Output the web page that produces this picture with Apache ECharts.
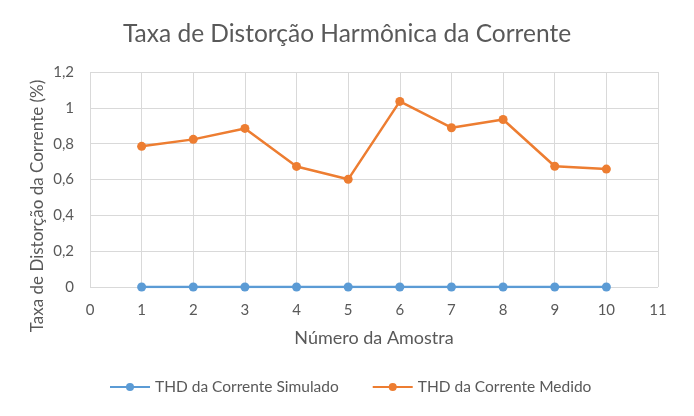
<!DOCTYPE html>
<html>
<head>
<meta charset="utf-8">
<script src="https://cdn.jsdelivr.net/npm/echarts@6/dist/echarts.min.js"></script>
<style>
  html, body { margin: 0; padding: 0; background: #fff; }
  #main { width: 694px; height: 416px; }
</style>
</head>
<body>
<div id="main"></div>
<script>
// amostras e valores
const amostras = [1, 2, 3, 4, 5, 6, 7, 8, 9, 10];
const thdSimulado = [0, 0, 0, 0, 0, 0, 0, 0, 0, 0];
const thdMedido = [0.785, 0.824, 0.885, 0.673, 0.601, 1.036, 0.889, 0.935, 0.674, 0.658];

const cinza = '#595959';
const fonte = 'Lato, "Open Sans", sans-serif';

const chart = echarts.init(document.getElementById('main'), null, { renderer: 'canvas' });

chart.setOption({
  backgroundColor: '#fff',
  animation: false,
  title: {
    text: 'Taxa de Distorção Harmônica da Corrente',
    left: 'center',
    top: 17,
    textStyle: { fontFamily: fonte, fontSize: 24.5, fontWeight: 'normal', color: cinza }
  },
  // nome do eixo y desenhado à parte (o nome do eixo quebrava em duas linhas)
  graphic: [{
    type: 'text',
    x: 38,
    y: 206,
    rotation: Math.PI / 2,
    style: {
      text: 'Taxa de Distorção da Corrente (%)',
      font: '17px Lato, "Open Sans", sans-serif',
      fill: cinza,
      textAlign: 'center',
      textVerticalAlign: 'middle'
    }
  }],
  legend: {
    bottom: 16,
    left: 104,
    itemWidth: 40,
    itemHeight: 10,
    itemGap: 33,
    textStyle: { fontFamily: fonte, fontSize: 15.5, color: cinza },
    data: ['THD da Corrente Simulado', 'THD da Corrente Medido']
  },
  grid: { left: 90, right: 36, top: 72, bottom: 129 },
  xAxis: {
    type: 'value',
    min: 0,
    max: 11,
    interval: 1,
    name: 'Número da Amostra',
    nameLocation: 'middle',
    nameGap: 42,
    nameTextStyle: { fontFamily: fonte, fontSize: 18, color: cinza },
    axisLine: { show: false },
    axisTick: { show: false },
    axisLabel: { fontFamily: fonte, fontSize: 15, color: cinza, margin: 16 },
    splitLine: { show: true, lineStyle: { color: '#d9d9d9', width: 1 } }
  },
  yAxis: {
    type: 'value',
    min: 0,
    max: 1.2,
    interval: 0.2,
    axisLine: { show: false },
    axisTick: { show: false },
    axisLabel: {
      fontFamily: fonte, fontSize: 15, color: cinza, margin: 16,
      formatter: v => String(Math.round(v * 10) / 10).replace('.', ',')
    },
    splitLine: { show: true, lineStyle: { color: '#d9d9d9', width: 1 } }
  },
  series: [
    {
      name: 'THD da Corrente Simulado',
      type: 'line',
      data: amostras.map((a, i) => [a, thdSimulado[i]]),
      symbol: 'circle',
      symbolSize: 9,
      color: '#5B9BD5',
      lineStyle: { width: 2.5, color: '#5B9BD5' },
      itemStyle: { color: '#5B9BD5' }
    },
    {
      name: 'THD da Corrente Medido',
      type: 'line',
      data: amostras.map((a, i) => [a, thdMedido[i]]),
      symbol: 'circle',
      symbolSize: 9,
      color: '#ED7D31',
      lineStyle: { width: 2.5, color: '#ED7D31' },
      itemStyle: { color: '#ED7D31' }
    }
  ]
});
</script>
</body>
</html>
